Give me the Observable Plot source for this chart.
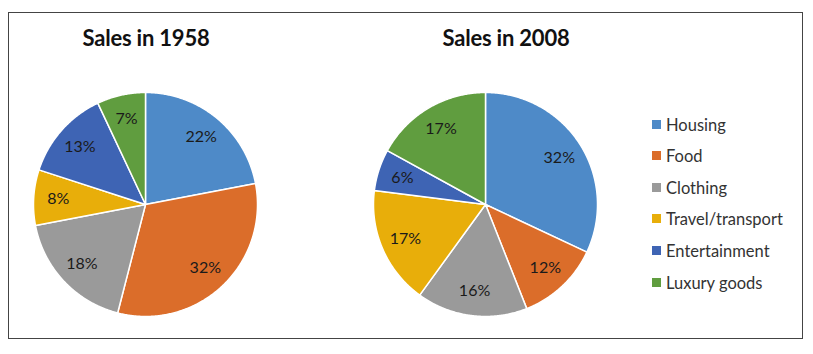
<!DOCTYPE html>
<html><head><meta charset="utf-8">
<script src="https://cdn.jsdelivr.net/npm/d3@7"></script>
<script src="https://cdn.jsdelivr.net/npm/@observablehq/plot@0.6"></script>
<style>
body{margin:0;background:#fff;font-family:Lato,"Open Sans",sans-serif;}
#wrap{position:relative;width:813px;height:354px;overflow:hidden;}
#frame{position:absolute;left:8px;top:12px;width:795px;height:327px;border:1px solid #444;box-sizing:border-box;}
.title{position:absolute;top:24px;width:200px;text-align:center;font-weight:bold;font-size:22px;color:#111;letter-spacing:-0.2px;}
.pie{position:absolute;top:84px;}
#legend{position:absolute;left:652px;top:114px;}
.item{position:absolute;left:0;height:20px;white-space:nowrap;font-size:16.5px;color:#333;}
.sw{position:absolute;left:0;top:6px;width:9px;height:9px;}
.lab{position:absolute;left:14px;top:1px;line-height:20px;}
</style></head>
<body><div id="wrap"><div id="frame"></div></div>
<script>
const categories = ["Housing","Food","Clothing","Travel/transport","Entertainment","Luxury goods"];
const sales1958 = [22,32,18,8,13,7];
const sales2008 = [32,12,16,17,6,17];
const colors = ["#4e8ac8","#db6d2a","#9a9a9a","#e8ae0a","#3e64b4","#609d3f"];
const titles = ["Sales in 1958","Sales in 2008"];

const wrap = document.getElementById("wrap");

function buildSlices(values){
  const total = d3.sum(values);
  const pts = [], labels = [];
  let cum = 0;
  values.forEach((v,i)=>{
    const a0 = cum/total*2*Math.PI, a1 = (cum+v)/total*2*Math.PI;
    cum += v;
    const n = Math.max(2, Math.ceil((a1-a0)/(Math.PI/360)));
    pts.push({cat:categories[i], x:0, y:0});
    for(let k=0;k<=n;k++){
      const a = a0 + (a1-a0)*k/n;
      pts.push({cat:categories[i], x:Math.sin(a), y:Math.cos(a)});
    }
    pts.push({cat:categories[i], x:0, y:0});
    const am = (a0+a1)/2, rl = 0.78;
    labels.push({text: v+"%", x: rl*Math.sin(am), y: rl*Math.cos(am)});
  });
  return {pts, labels};
}

function drawPie(values, left){
  const {pts, labels} = buildSlices(values);
  const chart = Plot.plot({
    width:240, height:240, margin:0,
    x:{domain:[-1,1], range:[8,232], axis:null},
    y:{domain:[-1,1], range:[232,8], axis:null},
    color:{domain:categories, range:colors},
    style:{background:"transparent"},
    marks:[
      Plot.line(pts, {x:"x", y:"y", z:"cat", fill:"cat", stroke:"white", strokeWidth:1.5, strokeLinejoin:"round"}),
      Plot.text(labels, {x:"x", y:"y", text:"text", fill:"#1a1a1a", fontSize:16, fontFamily:"Lato, sans-serif"})
    ]
  });
  chart.classList.add("pie");
  chart.style.left = left+"px";
  wrap.appendChild(chart);
}
drawPie(sales1958, 25);
drawPie(sales2008, 365);

[[46,titles[0]],[406,titles[1]]].forEach(([l,t])=>{
  const d = document.createElement("div");
  d.className="title"; d.style.left=l+"px"; d.textContent=t; wrap.appendChild(d);
});

const leg = document.createElement("div"); leg.id="legend";
const ys = [0,31,63,94,126,158];
categories.forEach((c,i)=>{
  const it = document.createElement("div"); it.className="item"; it.style.top = ys[i]+"px";
  const sw = document.createElement("div"); sw.className="sw"; sw.style.background=colors[i];
  const lb = document.createElement("div"); lb.className="lab"; lb.textContent=c;
  it.appendChild(sw); it.appendChild(lb); leg.appendChild(it);
});
wrap.appendChild(leg);
</script></body></html>
